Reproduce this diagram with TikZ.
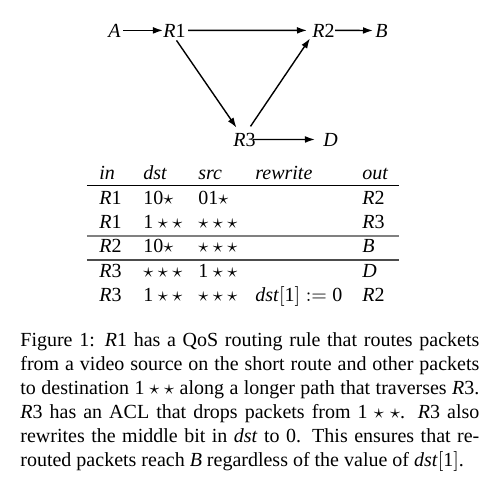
\documentclass[tikz,border=0pt]{standalone}
\usepackage{fontspec}
\setmainfont{Liberation Serif}
\usetikzlibrary{arrows.meta,calc}
\begin{document}
\begin{tikzpicture}[x=0.5pt,y=-0.5pt,
  lab/.style={inner sep=0pt, anchor=base west, font=\fontsize{10}{12}\selectfont},
  arr/.style={line width=0.7pt, -{Latex[length=5pt,width=3.4pt]}},
  toprule/.style={line width=0.5pt, black},
  grouprule/.style={line width=0.9pt, black!50},
  grouprulet/.style={line width=0.6pt, black!70}]
\useasboundingbox (0,0) rectangle (489,484);
% graph
\node[lab] (A)  at (108,37) {\textit{A}};
\node[lab] (R1) at (163,37) {\textit{R}\/1};
\node[lab] (R2) at (312,37) {\textit{R}\/2};
\node[lab] (B)  at (375,37) {\textit{B}};
\node[lab] (R3) at (233,146) {\textit{R}\/3};
\node[lab] (D)  at (323,146) {\textit{D}};
\draw[arr, shorten <=1pt] (A.east) -- (R1.west);
\draw[arr, shorten <=1pt, shorten >=2.5pt] (R1.east) -- (R2.west);
\draw[arr, shorten >=1pt] (R2.east) -- (B.west);
\draw[arr, shorten <=-1.5pt, shorten >=4pt] (R3.east) -- (D.west);
\draw[arr] ($(R1.south)+(2,3)$) -- ($(R3.north west)+(3.5,-4.7)$);
\draw[arr] ($(R3.north)+(6,-6)$) -- ($(R2.south west)+(-2,1)$);
% table header
\node[lab] (hin)  at (99,179) {\textit{in}};
\node[lab] (hdst) at (143,179) {\textit{dst}};
\node[lab] (hsrc) at (198,179) {\textit{src}};
\node[lab] (hrw)  at (255,179) {\textit{rewrite}};
\node[lab] (hout) at (362,179) {\textit{out}};
\coordinate (tl) at (87,185);
\coordinate (tr) at (399,185);
\draw[toprule] (tl) -- (tr);
% rows
\node[lab] (a1) at (99,204.5) {\textit{R}\/1};
\node[lab] (b1) at (143,204.5) {$\mbox{10}\star$};
\node[lab] (c1) at (198,204.5) {$\mbox{01}\star$};
\node[lab] (e1) at (362,204.5) {\textit{R}\/2};
\node[lab] (a2) at (99,228) {\textit{R}\/1};
\node[lab] (b2) at (143,228) {$\mbox{1}\star\star$};
\node[lab] (c2) at (198,228) {$\star\star\star$};
\node[lab] (e2) at (362,228) {\textit{R}\/3};
\coordinate (g1l) at (87,236);
\coordinate (g1r) at (399,236);
\draw[grouprule] (g1l) -- (g1r);
\node[lab] (a3) at (99,252) {\textit{R}\/2};
\node[lab] (b3) at (143,252) {$\mbox{10}\star$};
\node[lab] (c3) at (198,252) {$\star\star\star$};
\node[lab] (e3) at (362,252) {\textit{B}};
\coordinate (g2l) at (87,260);
\coordinate (g2r) at (399,260);
\draw[grouprulet] (g2l) -- (g2r);
\node[lab] (a4) at (99,277) {\textit{R}\/3};
\node[lab] (b4) at (143,277) {$\star\star\star$};
\node[lab] (c4) at (198,277) {$\mbox{1}\star\star$};
\node[lab] (e4) at (362,277) {\textit{D}};
\node[lab] (a5) at (99,301.5) {\textit{R}\/3};
\node[lab] (b5) at (143,301.5) {$\mbox{1}\star\star$};
\node[lab] (c5) at (198,301.5) {$\star\star\star$};
\node[lab] (d5) at (255,301.5) {$\mbox{\textit{dst}}[\mbox{1}] := \mbox{0}$};
\node[lab] (e5) at (362,301.5) {\textit{R}\/2};
% caption
\node[anchor=north west, inner sep=0pt, text width=229.5pt, align=justify,
      font=\fontsize{10}{12}\selectfont] (cap) at (20,329.2)
{\strut Figure 1: \textit{R}\/1 has a QoS routing rule that routes packets\linebreak
from a video source on the short route and other packets\linebreak
to destination $\mbox{1}\star\star$ along a longer path that traverses \textit{R}\/3.\linebreak
\textit{R}\/3 has an ACL that drops packets from $\mbox{1}\star\star$. \textit{R}\/3 also\linebreak
rewrites the middle bit in \textit{dst} to 0. This ensures that re-\linebreak
routed packets reach \textit{B} regardless of the value of \textit{dst}$[$1$]$.};
\end{tikzpicture}
\end{document}
